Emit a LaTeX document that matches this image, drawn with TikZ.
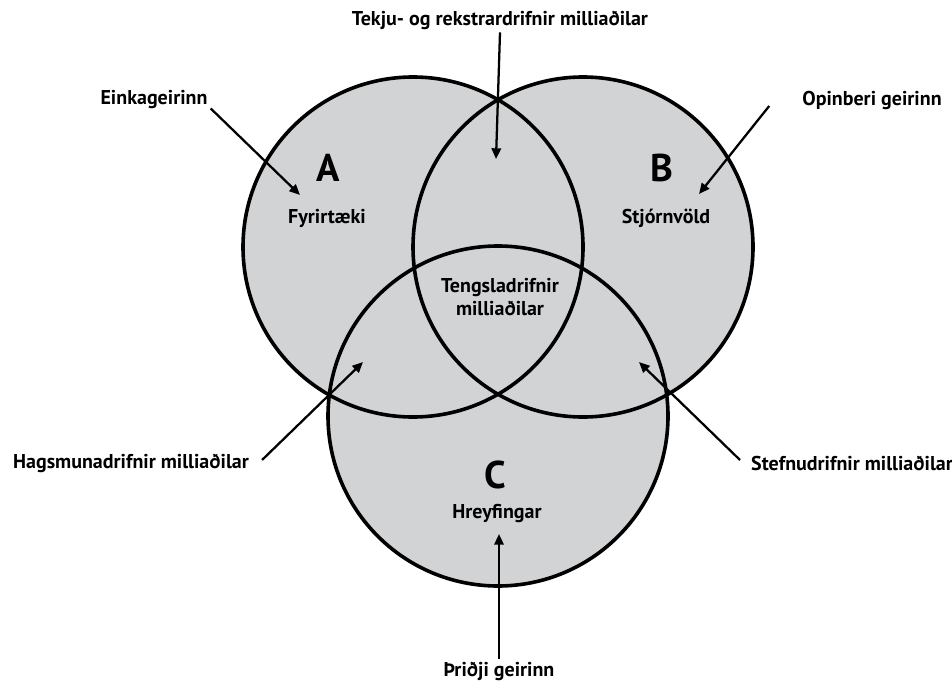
\documentclass[tikz,border=0pt]{standalone}
\usepackage{fontspec}
\setmainfont{PT Sans}
\usetikzlibrary{arrows.meta}
\definecolor{venngray}{RGB}{209,211,212}
\tikzset{every picture/.style={line width=0.75pt}}
\tikzset{
  circ/.style={line width=2.7pt},
  pil/.style={line width=1.7pt,-{Triangle[length=8pt,width=7pt]}},
  lbl/.style={font=\bfseries\fontsize{15}{17}\selectfont,inner sep=2pt},
  big/.style={font=\bfseries\fontsize{29}{31}\selectfont,inner sep=0pt}
}
\begin{document}
\begin{tikzpicture}[x=0.75pt,y=0.75pt,yscale=-1,xscale=1]
	\useasboundingbox (0,0) rectangle (952,688);

	%Shape: Circle fills
	\fill[venngray] (413,247) circle (170);
	\fill[venngray] (583,247) circle (170);
	\fill[venngray] (498,416) circle (170);
	%Shape: Circle outlines
	\draw[circ] (413,247) circle (170);
	\draw[circ] (583,247) circle (170);
	\draw[circ] (498,416) circle (170);

	% Text Node
	\node[lbl] (tekju) at (500,20) {Tekju- og rekstrardrifnir milliaðilar};
	% Text Node
	\node[lbl] (einka) at (154,100) {Einkageirinn};
	% Text Node
	\node[lbl] (opin) at (872,100) {Opinberi geirinn};
	% Text Node
	\node[big] (a) at (328,168) {A};
	% Text Node
	\node[lbl] (fyrir) at (327,218) {Fyrirtæki};
	% Text Node
	\node[big] (b) at (662,168) {B};
	% Text Node
	\node[lbl] (stjorn) at (666,218) {Stjórnvöld};
	% Text Node
	\node[lbl,align=center] (tengsl) at (500,297) {Tengsladrifnir\\milliaðilar};
	% Text Node
	\node[lbl] (hags) at (131,463) {Hagsmunadrifnir milliaðilar};
	% Text Node
	\node[lbl] (stefnu) at (852,463) {Stefnudrifnir milliaðilar};
	% Text Node
	\node[big] (c) at (495,475) {C};
	% Text Node
	\node[lbl] (hreyf) at (497,514) {Hreyfingar};
	% Text Node
	\node[lbl] (thridji) at (499,671) {Þriðji geirinn};

	% arrow tips
	\coordinate (toptip) at (496,159);
	\coordinate (atip) at (300,195);
	\coordinate (btip) at (699,194);
	\coordinate (hagstip) at (363,362);
	\coordinate (stefnutip) at (639,362);
	\coordinate (ctip) at (499,534);

	%Straight Lines
	\draw[pil] (tekju.south) -- (toptip);
	\draw[pil] ([shift={(0,-4)}]einka.south east) -- (atip);
	\draw[pil] ([shift={(-30,6)}]opin.west) -- (btip);
	\draw[pil] ([shift={(10,-3)}]hags.east) -- (hagstip);
	\draw[pil] ([shift={(-8,-3)}]stefnu.west) -- (stefnutip);
	\draw[pil] (thridji.north) -- (ctip);
\end{tikzpicture}
\end{document}
